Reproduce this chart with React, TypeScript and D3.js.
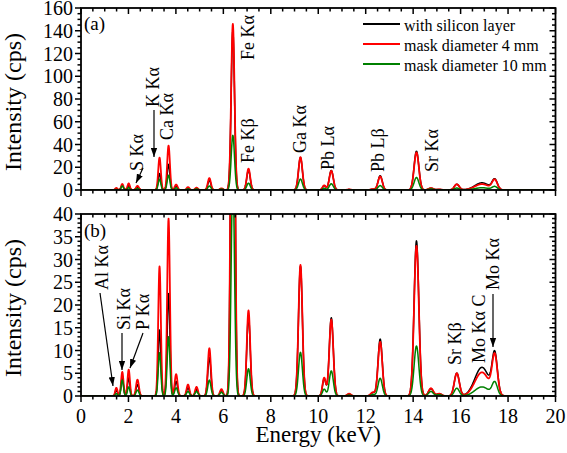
import React from "react";
import * as d3 from "d3";

// Peak table (energy keV, gaussian sigma keV, heights cps)
const peakEnergies = [1.49, 1.74, 2.01, 2.38, 3.31, 3.69, 4.01, 4.51, 4.87, 5.41, 5.92, 6.40, 7.06, 9.25, 10.25, 10.55, 11.3, 12.3, 12.61, 14.14, 14.75, 15.1, 15.84, 16.9, 17.44];
const peakWidths = [0.05, 0.05, 0.05, 0.06, 0.055, 0.057, 0.06, 0.06, 0.06, 0.065, 0.065, 0.07, 0.072, 0.082, 0.07, 0.085, 0.08, 0.09, 0.09, 0.1, 0.1, 0.1, 0.105, 0.3, 0.11];
const siliconLayer = [1.2, 4.0, 4.0, 2.5, 14.5, 22.5, 3.2, 1.8, 1.4, 8.5, 1.2, 140, 17.5, 28.5, 3.8, 17.2, 0.4, 0.7, 12.5, 34.1, 1.6, 0.5, 5.0, 6.3, 8.7];
const mask4mm = [1.8, 5.3, 5.8, 3.6, 28.5, 39, 4.8, 2.5, 2.0, 10.5, 1.5, 146, 18.8, 28.8, 4.0, 16.8, 0.5, 0.8, 11.9, 33.0, 1.7, 0.5, 5.0, 5.2, 8.4];
const mask10mm = [0.5, 3.5, 2.0, 1.3, 9.5, 13, 1.8, 1.0, 1.0, 3.5, 0.8, 48, 6.0, 9.6, 1.5, 5.5, 0.2, 0.3, 3.9, 11, 1.0, 0.3, 1.7, 2.0, 2.8];

const seriesNames = ["with silicon layer", "mask diameter 4 mm", "mask diameter 10 mm"];
const seriesColors = ["#000000", "#ff0000", "#008000"];
const seriesHeights = [siliconLayer, mask4mm, mask10mm];

const xTicks = [0, 2, 4, 6, 8, 10, 12, 14, 16, 18, 20];
const topYTicks = [0, 20, 40, 60, 80, 100, 120, 140, 160];
const bottomYTicks = [0, 5, 10, 15, 20, 25, 30, 35, 40];

const topLabels = [
  { t: "S K\u03b1", x: 137, y: 171 },
  { t: "K K\u03b1", x: 153, y: 107 },
  { t: "Ca K\u03b1", x: 167, y: 140 },
  { t: "Fe K\u03b1", x: 248, y: 60 },
  { t: "Fe K\u03b2", x: 248, y: 163 },
  { t: "Ga K\u03b1", x: 300, y: 153 },
  { t: "Pb L\u03b1", x: 328, y: 170 },
  { t: "Pb L\u03b2", x: 378, y: 172 },
  { t: "Sr K\u03b1", x: 432, y: 172 },
];
const bottomLabels = [
  { t: "Al K\u03b1", x: 102, y: 290 },
  { t: "Si K\u03b1", x: 124, y: 330 },
  { t: "P K\u03b1", x: 143, y: 330 },
  { t: "Sr K\u03b2", x: 455, y: 365 },
  { t: "Mo K\u03b1 C", x: 479, y: 363 },
  { t: "Mo K\u03b1", x: 493, y: 290 },
];
const arrows = [
  [154, 110, 154, 157],
  [143, 168, 136, 183],
  [100, 293, 113, 386],
  [122, 333, 122, 370],
  [143, 333, 130, 368],
  [493, 294, 493, 347],
];

const FONT = "'Liberation Serif', 'Times New Roman', serif";
const X0 = 81, X1 = 555.5;
const energies = d3.range(0, 20.0001, 0.01);

function spectrum(heights: number[]) {
  return energies.map((e) => ({
    e,
    v: d3.sum(peakEnergies, (c, i) => heights[i] * Math.exp(-0.5 * ((e - c) / peakWidths[i]) ** 2)),
  }));
}
const spectra = seriesHeights.map(spectrum);

const x = d3.scaleLinear().domain([0, 20]).range([X0, X1]);

function Panel({ id, yMax, top, bottom, major, minor, ticks, xLabels }: any) {
  const y = d3.scaleLinear().domain([0, yMax]).range([bottom, top]);
  const line = d3.line<any>().x((d) => x(d.e)).y((d) => y(d.v));
  const xMinor = d3.range(0, 20.001, 0.5);
  const yMinor = d3.range(0, yMax + 0.001, minor);
  return (
    <g>
      <defs>
        <clipPath id={id}>
          <rect x={X0} y={top} width={X1 - X0} height={bottom - top} />
        </clipPath>
      </defs>
      <g clipPath={`url(#${id})`}>
        {spectra.map((s, i) => (
          <path key={i} d={line(s) || ""} fill="none" stroke={seriesColors[i]} strokeWidth={i === 1 ? 1.8 : 1.5} strokeLinejoin="round" />
        ))}
      </g>
      {xMinor.map((v) => {
        const isMajor = Math.abs(v / 2 - Math.round(v / 2)) < 1e-6;
        const len = isMajor ? 6 : 3.5;
        return (
          <g key={"xt" + v} stroke="#000" strokeWidth={1.5}>
            <line x1={x(v)} x2={x(v)} y1={bottom} y2={bottom + len} />
            <line x1={x(v)} x2={x(v)} y1={top} y2={top + len} />
          </g>
        );
      })}
      {yMinor.map((v) => {
        const isMajor = Math.abs(v / major - Math.round(v / major)) < 1e-6;
        const len = isMajor ? 6 : 3.5;
        return (
          <g key={"yt" + v} stroke="#000" strokeWidth={1.5}>
            <line x1={X0} x2={X0 - len} y1={y(v)} y2={y(v)} />
            <line x1={X1} x2={X1 - len} y1={y(v)} y2={y(v)} />
          </g>
        );
      })}
      <rect x={X0} y={top} width={X1 - X0} height={bottom - top} fill="none" stroke="#000" strokeWidth={1.8} />
      {ticks.map((v: number) => (
        <text key={"yl" + v} x={73} y={y(v)} dy="0.35em" textAnchor="end" fontSize={20} fontFamily={FONT}>
          {v}
        </text>
      ))}
      {xLabels &&
        xTicks.map((v) => (
          <text key={"xl" + v} x={x(v)} y={bottom + 27} textAnchor="middle" fontSize={20} fontFamily={FONT}>
            {v}
          </text>
        ))}
      <text
        transform={`translate(13,${(top + bottom) / 2 + 3}) rotate(-90)`}
        dy="0.35em"
        textAnchor="middle"
        fontSize={24}
        fontFamily={FONT}
      >
        Intensity (cps)
      </text>
    </g>
  );
}

export default function App() {
  return (
    <svg width={567} height={453} style={{ position: "absolute", left: 0, top: 0, background: "#fff" }}>
      <defs>
        <marker id="arr" viewBox="0 0 10 7" refX={10} refY={3.5} markerWidth={9} markerHeight={7} markerUnits="userSpaceOnUse" orient="auto">
          <path d="M0,0 L10,3.5 L0,7 z" fill="#000" />
        </marker>
      </defs>
      <Panel id="cTop" yMax={160} top={8} bottom={190} major={20} minor={5} ticks={topYTicks} xLabels={false} />
      <Panel id="cBot" yMax={40} top={214} bottom={396} major={5} minor={1} ticks={bottomYTicks} xLabels={true} />
      <text x={84} y={30} fontSize={19} fontFamily={FONT}>(a)</text>
      <text x={84} y={237} fontSize={19} fontFamily={FONT}>(b)</text>
      {[...topLabels, ...bottomLabels].map((l, i) => (
        <text key={"an" + i} transform={`translate(${l.x},${l.y}) rotate(-90)`} dy="0.35em" fontSize={18} fontFamily={FONT}>
          {l.t}
        </text>
      ))}
      {arrows.map((a, i) => (
        <line key={"ar" + i} x1={a[0]} y1={a[1]} x2={a[2]} y2={a[3]} stroke="#000" strokeWidth={1.2} markerEnd="url(#arr)" />
      ))}
      {seriesNames.map((n, i) => (
        <g key={"lg" + i}>
          <line x1={363} x2={400} y1={24 + i * 20} y2={24 + i * 20} stroke={seriesColors[i]} strokeWidth={1.8} />
          <text x={404} y={25 + i * 20} dy="0.35em" fontSize={16} fontFamily={FONT}>
            {n}
          </text>
        </g>
      ))}
      <text x={(X0 + X1) / 2} y={442} textAnchor="middle" fontSize={23} fontFamily={FONT}>
        Energy (keV)
      </text>
    </svg>
  );
}
